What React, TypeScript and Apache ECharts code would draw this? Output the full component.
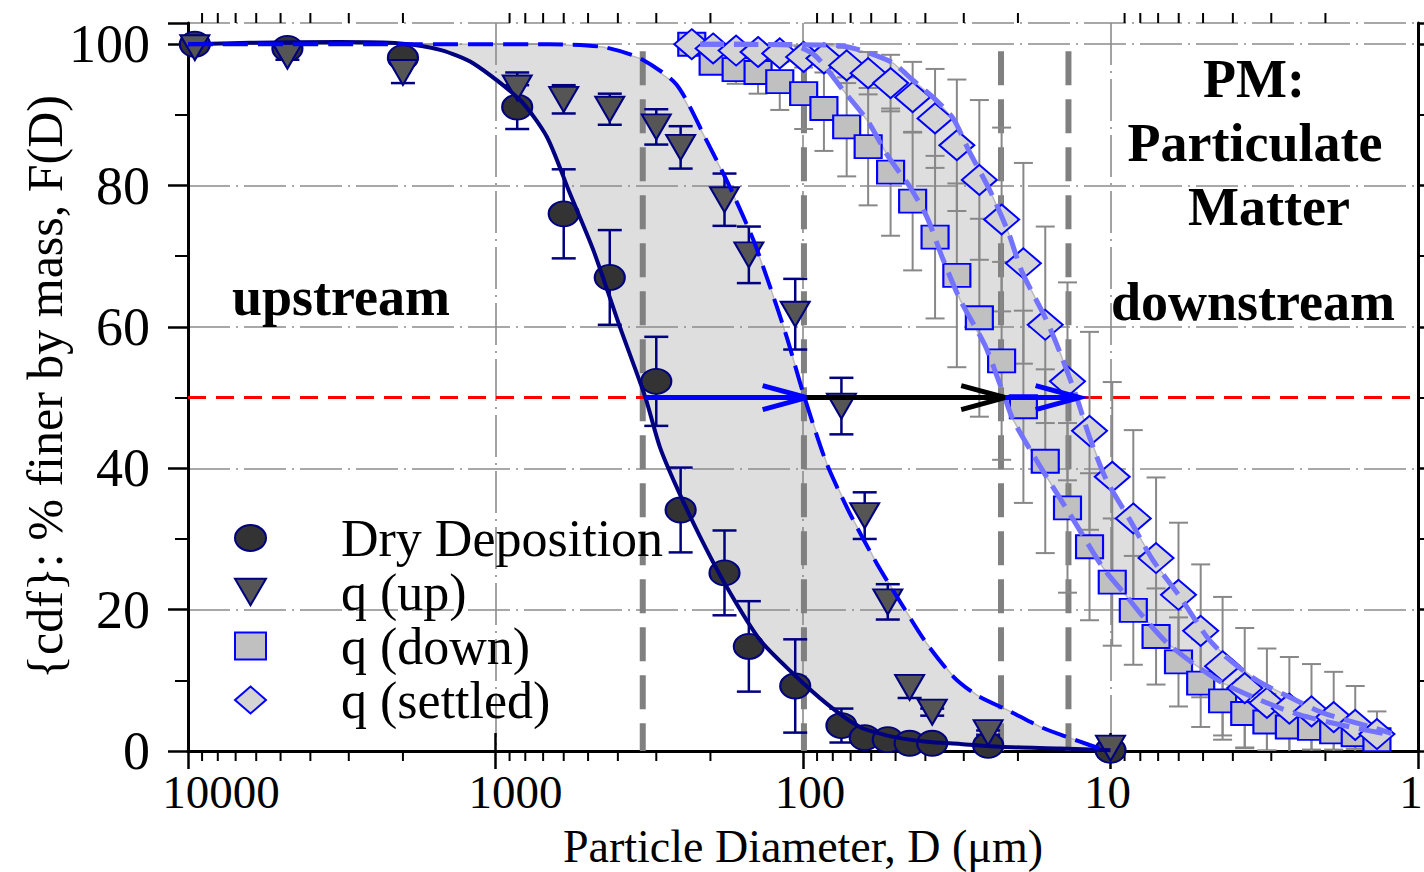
import React, { useEffect, useRef } from 'react';
import * as echarts from 'echarts';

// ---------- data ----------
// sieve sizes (µm) shared by dry deposition and q(up)
const sieveD = [9500, 4750, 2000, 850, 600, 425, 300, 250, 180, 150, 106, 75, 63, 53, 45, 38, 25, 10];
const dryDepF = [100.0, 99.4, 98.1, 91.1, 76.0, 67.0, 52.3, 34.1, 25.2, 14.8, 9.2, 3.6, 1.9, 1.6, 1.1, 1.1, 0.8, 0.1];
const dryDepErr = [0.3, 0.5, 1.0, 3.1, 6.3, 6.7, 6.3, 6.0, 6.0, 6.4, 6.6, 2.4, 0.5, 0.3, 0.3, 0.3, 0.3, 0.1];
const qUpF = [99.5, 98.3, 96.0, 93.8, 92.2, 90.8, 88.3, 85.4, 78.0, 70.2, 61.8, 48.8, 33.3, 21.1, 9.0, 5.5, 2.6, 0.4];
const qUpErr = [0.3, 0.5, 1.5, 2.2, 2.0, 2.2, 2.5, 3.0, 3.7, 4.0, 5.0, 4.0, 3.3, 2.5, 1.5, 0.5, 0.3, 0.2];

// particle size bins (µm) shared by q(down) and q(settled)
const binD = [230, 196, 165, 140, 119, 99.5, 85.5, 72.1, 61.4, 51.9, 44.0, 37.2, 31.6, 26.7, 22.6, 19.2, 16.3, 13.8, 11.7, 9.87, 8.43, 7.11, 6.01, 5.09, 4.32, 3.66, 3.10, 2.62, 2.22, 1.88, 1.60, 1.36];
const qDownF = [100, 97.3, 96.4, 96.0, 94.7, 93.0, 90.9, 88.3, 85.5, 81.9, 77.8, 72.7, 67.3, 61.3, 55.2, 48.7, 41.0, 34.4, 28.9, 23.9, 19.9, 16.2, 12.6, 9.6, 7.1, 5.3, 4.1, 3.4, 3.2, 2.7, 2.3, 1.6];
const qDownErr = [0.5, 1.5, 2, 3, 4, 5, 6, 7, 8.3, 9, 9.8, 11.5, 13, 14, 14, 13.6, 13, 12, 10.4, 9, 7.7, 6.8, 6.3, 6.2, 5.5, 4.8, 4, 3.5, 3, 2.5, 2, 1.5];
const qSettledF = [100, 99.4, 99.1, 98.9, 98.7, 98.2, 98.0, 97.0, 95.9, 94.5, 92.5, 89.5, 85.7, 80.8, 75.2, 69.0, 60.3, 52.3, 45.3, 38.8, 32.9, 27.3, 22.1, 17.0, 12.0, 8.9, 6.8, 6.0, 5.6, 4.8, 3.7, 2.4];
const qSettledErr = [0.3, 0.5, 0.8, 1, 1.2, 1.5, 2, 2.5, 3, 4, 5, 7, 9.3, 11.3, 13, 14.2, 13.9, 14, 14, 13.4, 12.5, 11.4, 10.2, 9.4, 9.8, 8.5, 7.7, 7.3, 6.7, 6.4, 5.5, 3.2];

// fitted cdf curves
const dryFitD = [10000, 6290, 3210, 2045, 1514, 1183, 832, 681, 573, 481, 394, 326, 292, 258, 216, 177, 138, 108, 83.8, 65.3, 50.8, 39.6, 30.8, 22.9, 14.6, 10.0];
const dryFitF = [100, 100.2, 100.3, 100.1, 99.2, 97.3, 92.1, 86.9, 78.9, 70.9, 60.0, 50.1, 43.0, 37.4, 30.3, 23.2, 15.7, 11.0, 6.7, 3.4, 2.0, 1.3, 1.0, 0.6, 0.35, 0.1];
const qUpFitD = [10000, 2045, 666, 447, 339, 258, 206, 173, 145, 128, 113, 99.8, 83.8, 70.4, 57.5, 47.2, 39.6, 32.4, 27.2, 21.2, 16.9, 13.9, 11.7, 10.4];
const qUpFitF = [100, 100, 100, 99.6, 98.0, 94.3, 86.4, 79.8, 72.3, 65.7, 58.6, 50.6, 40.7, 33.6, 26.5, 20.4, 15.2, 10.5, 7.9, 5.6, 3.4, 2.0, 0.85, 0.1];
const qDownFitD = [216, 110, 91.4, 74.1, 61.5, 53.0, 44.9, 39.5, 35.3, 30.8, 25.6, 22.4, 20.7, 16.9, 13.2, 10.6, 8.83, 7.83, 6.55, 5.39, 4.31, 3.26, 2.42, 1.66, 1.23];
const qDownFitF = [100, 99.9, 98.4, 93.5, 89.1, 84.2, 79.8, 75.5, 69.9, 63.8, 57.4, 50.8, 46.8, 40.2, 32.7, 26.0, 21.8, 19.0, 15.3, 12.4, 9.6, 7.2, 5.1, 3.4, 2.3];
const qSettledFitD = [216, 88.1, 72.1, 60.5, 50.8, 43.9, 37.8, 32.5, 29.0, 24.6, 21.5, 19.4, 16.3, 14.6, 12.9, 11.7, 10.3, 8.65, 7.28, 5.94, 4.85, 4.18, 3.34, 2.61, 2.04, 1.40, 1.22];
const qSettledFitF = [100, 99.9, 99.65, 98.7, 97.3, 94.9, 92.5, 89.5, 85.1, 79.2, 73.4, 67.8, 61.3, 56.4, 50.1, 44.4, 38.3, 32.7, 27.0, 21.8, 16.1, 13.2, 10.0, 7.6, 5.4, 3.3, 2.5];

// median (D50) markers and arrows
const medianF = 50;
const d50Lines = [332, 99.3, 22.7, 13.7];
const arrowFromD = [326, 97.3, 22.0];
const arrowToD = [97.3, 22.0, 12.6];

// axes
const xMin = 1;
const xMax = 10000;
const yMin = 0;
const yMax = 103;
const yInterval = 20;
const xMinorTicks = [9000, 8000, 7000, 6000, 5000, 4000, 3000, 2000, 900, 800, 700, 600, 500, 400, 300, 200, 90, 80, 70, 60, 50, 40, 30, 20, 9, 8, 7, 6, 5, 4, 3, 2];

const seriesNames = ['Dry Deposition', 'q (up)', 'q (down)', 'q (settled)'];

// ---------- styles ----------
const FONT = '"Liberation Serif", "Times New Roman", serif';
const NAVY = '#000080';
const BLUE = '#0000ff';
const LIGHTBLUE = '#7373ff';
const GRIDLINE = { color: '#8c8c8c', width: 1.6, type: [42, 6, 2, 6] as any };
const arrowColors = ['#0000ff', '#000000', '#0000ff'];

const zip = (a: number[], b: number[]) => a.map((v, i) => [v, b[i]]);

function errorBars(xs: number[], ys: number[], es: number[], color: string, cap: number, width: number) {
  return {
    type: 'custom',
    silent: true,
    z: 4,
    clip: true,
    data: xs.map((x, i) => [x, ys[i], es[i]]),
    renderItem: (params: any, api: any) => {
      const x = api.value(0);
      const y = api.value(1);
      const e = api.value(2);
      const hi = Math.min(y + e, yMax);
      const lo = Math.max(y - e, 0);
      const pt = api.coord([x, hi]);
      const pb = api.coord([x, lo]);
      const style = { stroke: color, lineWidth: width };
      const children: any[] = [
        { type: 'line', shape: { x1: pt[0], y1: pt[1], x2: pb[0], y2: pb[1] }, style },
        { type: 'line', shape: { x1: pt[0] - cap, y1: pt[1], x2: pt[0] + cap, y2: pt[1] }, style },
      ];
      if (y - e >= 0) {
        children.push({ type: 'line', shape: { x1: pb[0] - cap, y1: pb[1], x2: pb[0] + cap, y2: pb[1] }, style });
      }
      return { type: 'group', children };
    },
  };
}

function band(upper: number[][], lower: number[][]) {
  const pts = upper.concat(lower.slice().reverse());
  return {
    type: 'custom',
    silent: true,
    z: -1,
    data: pts,
    renderItem: (params: any, api: any) => {
      if (params.dataIndex !== 0) return null;
      return {
        type: 'polygon',
        shape: { points: pts.map((p) => api.coord(p)) },
        style: { fill: '#dedede', stroke: '#b9b9b9', lineWidth: 1.5 },
      };
    },
  };
}

function fitLine(xs: number[], ys: number[], color: string, width: number, type: any) {
  return {
    type: 'line',
    data: zip(xs, ys),
    showSymbol: false,
    symbol: 'none',
    smooth: 0.25,
    silent: true,
    z: 6,
    lineStyle: { color, width, type },
  };
}

const labelRich: any = {};
[0, 1, 2, 3, 4].forEach((k) => {
  const pads = [[0, 14, 0, 0], [0, 6, 0, 0], [0, 0, 0, 14], [0, 0, 0, 40], [0, 0, 0, 66]];
  labelRich['k' + k] = { fontFamily: FONT, fontSize: 47, lineHeight: 40, color: '#000', padding: pads[k] };
});

const frameAxisLine = { show: true, lineStyle: { color: '#000', width: 3 } };

const option: any = {
  animation: false,
  backgroundColor: '#ffffff',
  grid: { left: 188, right: 6, top: 23, bottom: 121, containLabel: false, outerBoundsMode: 'none' },
  xAxis: [
    {
      type: 'log', logBase: 10, min: xMin, max: xMax, inverse: true, position: 'bottom', z: 1,
      axisLine: frameAxisLine,
      axisTick: { show: true, length: 18, lineStyle: { color: '#000', width: 2.5 } },
      axisLabel: {
        fontFamily: FONT, fontSize: 47, lineHeight: 40, color: '#000', margin: 21,
        formatter: (v: number) => {
          const k = Math.round(Math.log10(v));
          return '{k' + k + '|' + Math.round(v) + '}';
        },
        rich: labelRich,
      },
      splitLine: { show: false },
      name: 'Particle Diameter, D (μm)',
      nameLocation: 'middle',
      nameGap: 72,
      nameMoveOverlap: false,
      nameTextStyle: { fontFamily: FONT, fontSize: 46, color: '#000' },
    },
    {
      type: 'log', logBase: 10, min: xMin, max: xMax, inverse: true, position: 'top', z: 1,
      axisLine: frameAxisLine,
      axisTick: { show: true, length: 18, lineStyle: { color: '#000', width: 2.5 } },
      axisLabel: { show: false },
      splitLine: { show: false },
    },
    {
      type: 'log', logBase: 10, min: xMin, max: xMax, inverse: true, position: 'bottom', z: 0,
      axisLine: { show: false }, axisTick: { show: false }, axisLabel: { show: false },
      splitLine: { show: true, lineStyle: GRIDLINE },
    },
  ],
  yAxis: [
    {
      type: 'value', min: yMin, max: yMax, interval: yInterval, position: 'left', z: 1,
      axisLine: frameAxisLine,
      axisTick: { show: true, length: 20, lineStyle: { color: '#000', width: 2.5 } },
      minorTick: { show: true, splitNumber: 2, length: 13, lineStyle: { color: '#000', width: 2 } },
      axisLabel: {
        fontFamily: FONT, fontSize: 54, color: '#000', margin: 38,
        formatter: (v: number) => (v > 100 ? '' : String(v)),
      },
      splitLine: { show: false },
      name: '{cdf}: % finer by mass, F(D)',
      nameLocation: 'middle',
      nameGap: 118,
      nameMoveOverlap: false,
      nameTextStyle: { fontFamily: FONT, fontSize: 50, color: '#000' },
    },
    {
      type: 'value', min: yMin, max: yMax, interval: yInterval, position: 'right', z: 1,
      axisLine: frameAxisLine,
      axisTick: { show: true, length: 10, lineStyle: { color: '#000', width: 2.5 } },
      minorTick: { show: true, splitNumber: 2, length: 7, lineStyle: { color: '#000', width: 2 } },
      axisLabel: { show: false },
      splitLine: { show: false },
    },
    {
      type: 'value', min: yMin, max: yMax, interval: yInterval, position: 'left', z: 0,
      axisLine: { show: false }, axisTick: { show: false }, axisLabel: { show: false },
      splitLine: { show: true, lineStyle: GRIDLINE },
    },
  ],
  legend: {
    show: true,
    orient: 'vertical',
    left: 234,
    top: 512,
    padding: 0,
    itemGap: 2,
    itemWidth: 31,
    itemHeight: 27,
    selectedMode: false,
    data: seriesNames,
    textStyle: { fontFamily: FONT, fontSize: 52, color: '#000', lineHeight: 46, padding: [0, 0, 0, 70] },
  },
  graphic: [
    { type: 'text', x: 232, y: 297, z: 10, style: { text: 'upstream', fontFamily: FONT, fontSize: 54, fontWeight: 'bold', fill: '#000', textAlign: 'left', align: 'left', textVerticalAlign: 'middle', verticalAlign: 'middle' } },
    { type: 'text', x: 1254, y: 79, z: 10, style: { text: 'PM:', fontFamily: FONT, fontSize: 54, fontWeight: 'bold', fill: '#000', textAlign: 'center', align: 'center', textVerticalAlign: 'middle', verticalAlign: 'middle' } },
    { type: 'text', x: 1255, y: 143, z: 10, style: { text: 'Particulate', fontFamily: FONT, fontSize: 54, fontWeight: 'bold', fill: '#000', textAlign: 'center', align: 'center', textVerticalAlign: 'middle', verticalAlign: 'middle' } },
    { type: 'text', x: 1269, y: 207, z: 10, style: { text: 'Matter', fontFamily: FONT, fontSize: 54, fontWeight: 'bold', fill: '#000', textAlign: 'center', align: 'center', textVerticalAlign: 'middle', verticalAlign: 'middle' } },
    { type: 'text', x: 1253, y: 302, z: 10, style: { text: 'downstream', fontFamily: FONT, fontSize: 54, fontWeight: 'bold', fill: '#000', textAlign: 'center', align: 'center', textVerticalAlign: 'middle', verticalAlign: 'middle' } },
  ],
  series: [
    band(zip(dryFitD, dryFitF), zip(qUpFitD, qUpFitF)),
    band(zip(qSettledFitD, qSettledFitF), zip(qDownFitD, qDownFitF)),
    {
      type: 'custom', silent: true, z: 2,
      data: d50Lines.map((d) => [d, medianF]),
      renderItem: (params: any, api: any) => {
        const top = api.coord([api.value(0), 99]);
        const bot = api.coord([api.value(0), 0]);
        return {
          type: 'line',
          shape: { x1: top[0], y1: top[1], x2: bot[0], y2: bot[1] },
          style: { stroke: '#808080', lineWidth: 6, lineDash: [34, 14] },
        };
      },
    },
    {
      type: 'line', silent: true, z: 2, symbol: 'none', showSymbol: false,
      data: [[xMax, medianF], [xMin, medianF]],
      lineStyle: { color: '#ff0000', width: 3, type: [18, 10] },
    },
    errorBars(sieveD, dryDepF, dryDepErr, NAVY, 12, 2.5),
    errorBars(sieveD, qUpF, qUpErr, NAVY, 12, 2.5),
    errorBars(binD, qDownF, qDownErr, '#888888', 9.5, 2),
    errorBars(binD, qSettledF, qSettledErr, '#888888', 9.5, 2),
    {
      name: seriesNames[0], type: 'scatter', z: 5,
      data: zip(sieveD, dryDepF),
      symbol: 'path://M0,12.5 A15,12.5 0 1,1 30,12.5 A15,12.5 0 1,1 0,12.5 Z',
      symbolSize: [30, 25],
      itemStyle: { color: '#333333', borderColor: NAVY, borderWidth: 2, opacity: 1 },
    },
    {
      name: seriesNames[1], type: 'scatter', z: 5,
      data: zip(sieveD, qUpF),
      symbol: 'path://M0,0 L29,0 L14.5,25 Z',
      symbolSize: [29, 25],
      itemStyle: { color: '#555555', borderColor: NAVY, borderWidth: 2, opacity: 1 },
    },
    {
      name: seriesNames[2], type: 'scatter', z: 5,
      data: zip(binD, qDownF),
      symbol: 'rect',
      symbolSize: [27, 23],
      itemStyle: { color: '#c0c0c0', borderColor: BLUE, borderWidth: 2, opacity: 1 },
    },
    {
      name: seriesNames[3], type: 'scatter', z: 5,
      data: zip(binD, qSettledF),
      symbol: 'diamond',
      symbolSize: [35, 30],
      itemStyle: { color: '#d4d4d4', borderColor: BLUE, borderWidth: 2, opacity: 1 },
    },
    fitLine(dryFitD, dryFitF, NAVY, 4, 'solid'),
    fitLine(qUpFitD, qUpFitF, BLUE, 4, [25, 10]),
    fitLine(qDownFitD, qDownFitF, LIGHTBLUE, 5, [24, 10]),
    fitLine(qSettledFitD, qSettledFitF, LIGHTBLUE, 5, [24, 10]),
    {
      type: 'custom', silent: true, z: 7,
      data: arrowFromD.map((d, i) => [d, medianF, arrowToD[i]]),
      renderItem: (params: any, api: any) => {
        const p1 = api.coord([api.value(0), api.value(1)]);
        const p2 = api.coord([api.value(2), api.value(1)]);
        const dir = p2[0] >= p1[0] ? 1 : -1;
        const L = 44;
        const H = 12;
        const color = arrowColors[params.dataIndex % arrowColors.length];
        return {
          type: 'group',
          children: [
            { type: 'line', shape: { x1: p1[0], y1: p1[1], x2: p2[0], y2: p2[1] }, style: { stroke: color, lineWidth: 5 } },
            {
              type: 'polyline',
              shape: { points: [[p2[0] - dir * L, p2[1] - H], [p2[0], p2[1]], [p2[0] - dir * L, p2[1] + H]] },
              style: { stroke: color, lineWidth: 5, fill: 'none', lineJoin: 'miter' },
            },
          ],
        };
      },
    },
    {
      type: 'custom', silent: true, z: 1, clip: false,
      data: xMinorTicks.map((v) => [v, 0]),
      renderItem: (params: any, api: any) => {
        const x = api.coord([api.value(0), 0])[0];
        const cs = params.coordSys;
        const top = cs.y;
        const bot = cs.y + cs.height;
        const style = { stroke: '#000', lineWidth: 2 };
        return {
          type: 'group',
          children: [
            { type: 'line', shape: { x1: x, y1: bot, x2: x, y2: bot + 10 }, style },
            { type: 'line', shape: { x1: x, y1: top, x2: x, y2: top - 10 }, style },
          ],
        };
      },
    },
  ],
};

export default function App() {
  const ref = useRef<HTMLDivElement>(null);
  useEffect(() => {
    document.body.style.margin = '0';
    const chart = echarts.init(ref.current as HTMLDivElement, undefined, { renderer: 'svg' });
    chart.setOption(option);
    return () => {
      chart.dispose();
    };
  }, []);
  return <div ref={ref} style={{ width: 1424, height: 872, overflow: 'hidden' }} />;
}
